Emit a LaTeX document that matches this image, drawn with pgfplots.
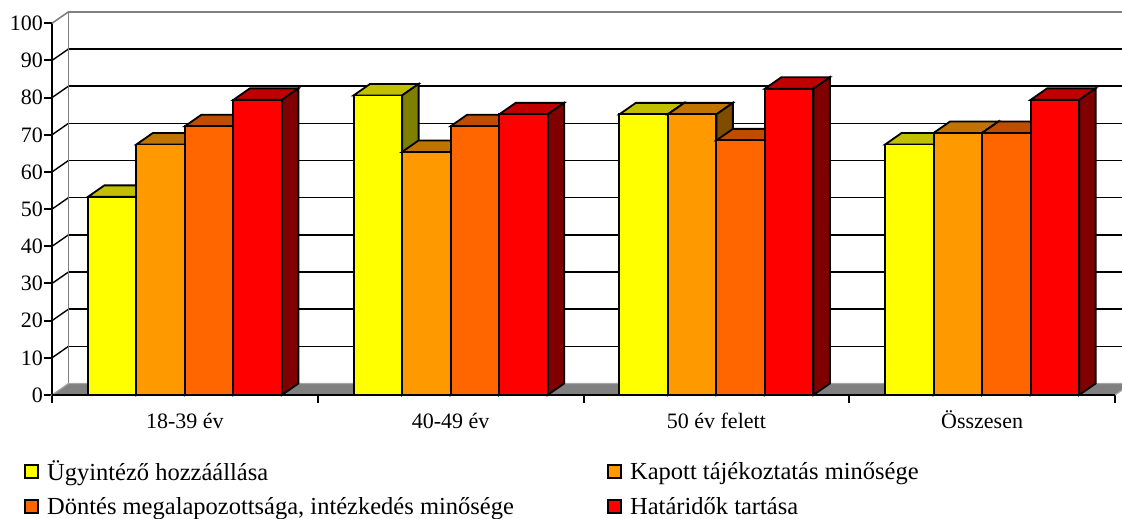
\documentclass[border=0pt]{standalone}
\usepackage{pgfplots}
\pgfplotsset{compat=1.18}
\usepackage{pgfplotstable}
\usepackage{fontspec}
\setmainfont{Liberation Serif}

\definecolor{yelFront}{HTML}{FFFF00}
\definecolor{yelTop}{HTML}{C0C000}
\definecolor{yelSide}{HTML}{808000}
\definecolor{oraFront}{HTML}{FF9900}
\definecolor{oraTop}{HTML}{C07300}
\definecolor{oraSide}{HTML}{804C00}
\definecolor{dorFront}{HTML}{FF6600}
\definecolor{dorTop}{HTML}{C04C00}
\definecolor{dorSide}{HTML}{803300}
\definecolor{redFront}{HTML}{FF0000}
\definecolor{redTop}{HTML}{C00000}
\definecolor{redSide}{HTML}{800000}
\definecolor{floorgray}{HTML}{808080}

% 3D extrusion of a bar: #1 name, #2 top colour, #3 side colour, #4 bar shift (pt)
\newcommand\defprism[4]{%
  \pgfdeclareplotmark{#1}{%
    \pgfmathsetmacro\ph{\barval*3.717}%
    \pgfsetfillcolor{#2}%
    \pgfpathmoveto{\pgfpoint{#4-24.25}{0}}%
    \pgfpathlineto{\pgfpoint{#4+24.25}{0}}%
    \pgfpathlineto{\pgfpoint{#4+24.25+16.5}{11.5}}%
    \pgfpathlineto{\pgfpoint{#4-24.25+16.5}{11.5}}%
    \pgfpathclose
    \pgfusepath{fill,stroke}%
    \pgfsetfillcolor{#3}%
    \pgfpathmoveto{\pgfpoint{#4+24.25}{0}}%
    \pgfpathlineto{\pgfpoint{#4+24.25+16.5}{11.5}}%
    \pgfpathlineto{\pgfpoint{#4+24.25+16.5}{11.5-\ph}}%
    \pgfpathlineto{\pgfpoint{#4+24.25}{-\ph}}%
    \pgfpathclose
    \pgfusepath{fill,stroke}%
  }}
\defprism{prismA}{yelTop}{yelSide}{-72.75}
\defprism{prismB}{oraTop}{oraSide}{-24.25}
\defprism{prismC}{dorTop}{dorSide}{24.25}
\defprism{prismD}{redTop}{redSide}{72.75}

\pgfplotsset{sqlegend/.style={legend image code/.code={\draw[##1] (0pt,-6.5pt) rectangle (13pt,6.5pt);}}}

\pgfplotstableread{
x A B C D
0.5 53.3 67.4 72.3 79.4
1.5 80.6 65.4 72.3 75.5
2.5 75.5 75.5 68.5 82.4
3.5 67.4 70.5 70.5 79.4
}\data

\begin{document}
\begin{tikzpicture}
\useasboundingbox (-52pt,-124pt) rectangle (1070pt,395pt);
\clip (-52pt,-124pt) rectangle (1070pt,395pt);
\begin{axis}[
  at={(0pt,0pt)}, anchor=south west,
  x=265.75pt, y=3.717pt,
  xmin=0, xmax=4, ymin=0, ymax=100,
  clip=false, clip mode=individual,
  axis x line*=bottom, axis y line*=left,
  axis line style={black, line width=2pt},
  ytick={0,10,...,100},
  xtick={0.5,1.5,2.5,3.5},
  xticklabels={18-39 év, 40-49 év, 50 év felett, Összesen},
  minor xtick={0,1,2,3,4},
  tick align=outside,
  major tick length=8pt, minor tick length=8pt,
  tick style={black, line width=2pt},
  major x tick style={draw=none},
  ymajorgrids,
  major grid style={black, line width=1.4pt, xshift=16.5pt, yshift=11.5pt},
  /pgf/number format/assume math mode=true,
  tick label style={font=\rmfamily\fontsize{22}{26}\selectfont},
  yticklabel style={inner sep=1pt},
  xticklabel style={yshift=-7pt, text height=15pt, text depth=5pt},
  legend columns=2,
  legend cell align=left,
  legend style={draw=none, fill=none, at={(axis description cs:-0.0292,-0.166)}, anchor=north west,
    font=\rmfamily\fontsize{24.5}{28}\selectfont, row sep=11pt, column sep=6pt},
]
% floor and side wall
\fill[floorgray, draw=gray!70, line width=1.2pt] (axis cs:0,0) -- (axis cs:4,0) -- ([shift={(16.5pt,11.5pt)}]axis cs:4,0) -- ([shift={(16.5pt,11.5pt)}]axis cs:0,0) -- cycle;
\pgfplotsinvokeforeach{10,20,30,40,50,60,70,80,90}{%
  \draw[black, line width=1.4pt] (axis cs:0,#1) -- ([shift={(16.5pt,11.5pt)}]axis cs:0,#1);}
\draw[gray, line width=1.6pt] ([shift={(16.5pt,11.5pt)}]axis cs:0,0) -- ([shift={(16.5pt,11.5pt)}]axis cs:0,100) -- ([shift={(16.5pt,11.5pt)}]axis cs:4,100);
\draw[gray, line width=1.6pt] (axis cs:0,100) -- ([shift={(16.5pt,11.5pt)}]axis cs:0,100);
\draw[black, line width=2pt] (axis cs:0,0) -- (axis cs:4,0);

\addplot[forget plot, only marks, mark=prismA, mark options={draw=black, line width=1.8pt},
  visualization depends on={rawy \as \barval}] table[x=x,y=A]{\data};
\addplot[forget plot, ybar, bar width=48.5pt, bar shift=-72.75pt, fill=yelFront, draw=black, line width=1.8pt] table[x=x,y=A]{\data};
\addplot[forget plot, only marks, mark=prismB, mark options={draw=black, line width=1.8pt},
  visualization depends on={rawy \as \barval}] table[x=x,y=B]{\data};
\addplot[forget plot, ybar, bar width=48.5pt, bar shift=-24.25pt, fill=oraFront, draw=black, line width=1.8pt] table[x=x,y=B]{\data};
\addplot[forget plot, only marks, mark=prismC, mark options={draw=black, line width=1.8pt},
  visualization depends on={rawy \as \barval}] table[x=x,y=C]{\data};
\addplot[forget plot, ybar, bar width=48.5pt, bar shift=24.25pt, fill=dorFront, draw=black, line width=1.8pt] table[x=x,y=C]{\data};
\addplot[forget plot, only marks, mark=prismD, mark options={draw=black, line width=1.8pt},
  visualization depends on={rawy \as \barval}] table[x=x,y=D]{\data};
\addplot[forget plot, ybar, bar width=48.5pt, bar shift=72.75pt, fill=redFront, draw=black, line width=1.8pt] table[x=x,y=D]{\data};

\addlegendimage{sqlegend, fill=yelFront, draw=black, line width=2pt}
\addlegendentry{\makebox[552pt][l]{Ügyintéző hozzáállása}}
\addlegendimage{sqlegend, fill=oraFront, draw=black, line width=2pt}
\addlegendentry{Kapott tájékoztatás minősége}
\addlegendimage{sqlegend, fill=dorFront, draw=black, line width=2pt}
\addlegendentry{\makebox[552pt][l]{Döntés megalapozottsága, intézkedés minősége}}
\addlegendimage{sqlegend, fill=redFront, draw=black, line width=2pt}
\addlegendentry{Határidők tartása}
\end{axis}
\end{tikzpicture}
\end{document}
